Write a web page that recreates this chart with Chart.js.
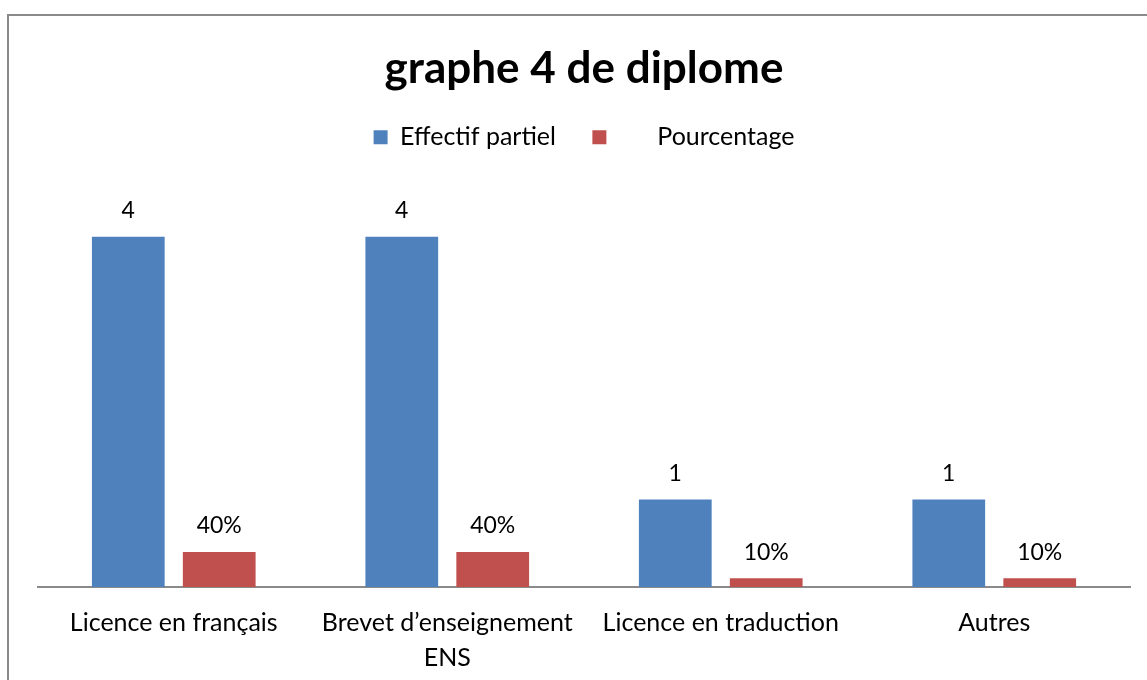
<!DOCTYPE html>
<html>
<head>
<meta charset="utf-8">
<script src="https://cdn.jsdelivr.net/npm/chart.js@4.4.1/dist/chart.umd.min.js"></script>
<style>
  html, body { margin: 0; padding: 0; background: #fff; overflow: hidden; }
  #wrap { position: relative; width: 1147px; height: 680px; }
  #frame { position: absolute; left: 7px; top: 14px; width: 1300px; height: 900px;
           border-left: 2px solid #8a8a8a; border-top: 2px solid #8a8a8a; }
  canvas { position: absolute; left: 0; top: 0; }
</style>
</head>
<body>
<div id="wrap">
  <div id="frame"></div>
  <canvas id="c" width="1147" height="680"></canvas>
</div>
<script>
const titleText = 'graphe 4 de diplome';
const categories = ['Licence en français', ['Brevet d\u2019enseignement', 'ENS'], 'Licence en traduction', 'Autres'];
const effectifPartiel = [4, 4, 1, 1];
const pourcentage = [0.4, 0.4, 0.1, 0.1];
const seriesNames = ['Effectif partiel', 'Pourcentage'];

const FONT = 'Lato, Carlito, Calibri, "Open Sans", sans-serif';

const baseLine = {
  id: 'baseLine',
  beforeDatasetsDraw(chart) {
    const { ctx, chartArea } = chart;
    const y = chart.scales.y.getPixelForValue(0);
    ctx.save();
    ctx.strokeStyle = '#8a8a8a';
    ctx.lineWidth = 2;
    ctx.beginPath();
    ctx.moveTo(chartArea.left, y);
    ctx.lineTo(chartArea.right, y);
    ctx.stroke();
    ctx.restore();
  }
};

const valueLabels = {
  id: 'valueLabels',
  afterDatasetsDraw(chart) {
    const ctx = chart.ctx;
    ctx.save();
    ctx.font = '23px ' + FONT;
    ctx.fillStyle = '#000';
    ctx.textAlign = 'center';
    ctx.textBaseline = 'middle';
    chart.data.datasets.forEach((ds, di) => {
      const meta = chart.getDatasetMeta(di);
      meta.data.forEach((bar, i) => {
        const v = ds.data[i];
        const txt = di === 1 ? Math.round(v * 100) + '%' : String(v);
        ctx.fillText(txt, bar.x, bar.y - 26);
      });
    });
    ctx.restore();
  }
};

new Chart(document.getElementById('c'), {
  type: 'bar',
  data: {
    labels: categories,
    datasets: [
      { label: seriesNames[0], data: effectifPartiel, backgroundColor: '#4F81BD',
        categoryPercentage: 0.665, barPercentage: 0.8 },
      { label: seriesNames[1], data: pourcentage, backgroundColor: '#C0504D',
        categoryPercentage: 0.665, barPercentage: 0.8 }
    ]
  },
  options: {
    responsive: false,
    animation: false,
    layout: { padding: { left: 37, right: 16, top: 0, bottom: 0 } },
    plugins: {
      title: {
        display: true, text: titleText, color: '#000',
        font: { family: FONT, size: 44, weight: 'bold' },
        padding: { top: 42, bottom: 0 }
      },
      legend: {
        display: true, position: 'top',
        labels: {
          color: '#000', boxWidth: 14, boxHeight: 14, padding: 30,
          font: { family: FONT, size: 25 },
          generateLabels(chart) {
            const items = Chart.defaults.plugins.legend.labels.generateLabels(chart);
            items.forEach((it, i) => {
              it.lineWidth = 0;
              if (i === 0) it.text = it.text + ' ';
              if (i === 1) it.text = '      ' + it.text;
            });
            return items;
          }
        }
      },
      tooltip: { enabled: false }
    },
    scales: {
      x: {
        grid: { display: false, drawTicks: false },
        border: { display: false },
        ticks: { color: '#000', font: { family: FONT, size: 25, lineHeight: 1.38 },
                 padding: 19, autoSkip: false, maxRotation: 0, minRotation: 0 },
        afterFit(scale) { scale.height = 93; }
      },
      y: { display: false, min: 0, max: 4.88 }
    }
  },
  plugins: [baseLine, valueLabels]
});
</script>
</body>
</html>
